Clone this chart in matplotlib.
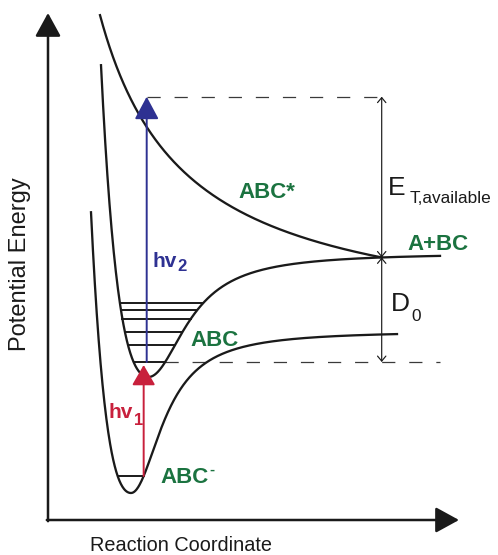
import numpy as np
import matplotlib
matplotlib.use("Agg")
import matplotlib.pyplot as plt
from matplotlib.patches import FancyArrowPatch

# ---------------- data (reaction coordinate r, energy E; arbitrary units) ----------------
states = ["ABC-", "ABC", "ABC*"]
# bound wells: [r_min, E_min, depth, left steepness, right half-width]
anion_params = [0.83, 0.27, 1.62, 2.1, 0.37]
anion_range = [0.43, 3.49]
neutral_params = [1.005, 1.43, 1.24, 2.0, 0.45]
neutral_range = [0.53, 3.92]
# repulsive excited state: [r_start, r_end, strength, softness]
excited_params = [0.52, 3.337, 2.6809, 0.85]
# vibrational levels (energies)
anion_levels = [0.44]
neutral_levels = [1.58, 1.75, 1.88, 2.01, 2.10, 2.17]
# photon energies reached
photon_top = 4.233
hv2_r = 0.987
dashed_right_end = 3.92

plt.rcParams["font.family"] = ["Liberation Sans", "DejaVu Sans"]
plt.rcParams["lines.scale_dashes"] = False

GREEN = "#1b7340"
RED = "#c8203c"
BLUE = "#2e3192"
BLACK = "#1a1a1a"


def bound_curve(r, r0, e_min, depth, a_left, w_right):
    t = (r - r0) / w_right
    left = e_min + depth * (np.exp(a_left * (r0 - r)) - 1.0) ** 2
    right = e_min + depth * t ** 2 / (1.0 + t ** 2)
    return np.where(r < r0, left, right)


def walls(E, r0, e_min, depth, a_left, w_right):
    f = (E - e_min) / depth
    rl = r0 - np.log(1.0 + np.sqrt(f)) / a_left
    rr = r0 + w_right * np.sqrt(f / (1.0 - f))
    return rl, rr


def repulsive_curve(r, r_start, r_end, e_end, c, u0):
    return e_end + c * (1.0 / (r - r_start + u0) - 1.0 / (r_end - r_start + u0))


fig = plt.figure(figsize=(4.98, 5.55), dpi=100)
ax = fig.add_axes([48 / 498, 35 / 555, 450 / 498, 520 / 555])
ax.set_xlim(0, 4.5)
ax.set_ylim(0, 5.2)
ax.axis("off")


def P(x, y):
    """pixel position -> data position (for annotation placement)"""
    return (x - 48) / 100.0, (520 - y) / 100.0


def arrow(p0, p1, color, lw, style, hl, hw, z=3):
    a = FancyArrowPatch(p0, p1, arrowstyle=f"{style},head_length={hl},head_width={hw}",
                        mutation_scale=1, color=color, lw=lw, shrinkA=0, shrinkB=0,
                        zorder=z, clip_on=False)
    ax.add_patch(a)


# axes arrows
arrow((0, -0.012), (0, 5.07), BLACK, 1.8, "-|>", 14.4, 7.9)
arrow((-0.012, 0), (4.11, 0), BLACK, 1.8, "-|>", 14.4, 7.9)

# curves
r = np.linspace(anion_range[0], anion_range[1], 800)
ax.plot(r, bound_curve(r, *anion_params), color=BLACK, lw=1.65, zorder=2)
r = np.linspace(neutral_range[0], neutral_range[1], 800)
ax.plot(r, bound_curve(r, *neutral_params), color=BLACK, lw=1.65, zorder=2)
r_start, r_end, c_rep, u0 = excited_params
e_meet = float(bound_curve(np.array(r_end), *neutral_params))
r = np.linspace(r_start, r_end, 800)
ax.plot(r, repulsive_curve(r, r_start, r_end, e_meet, c_rep, u0), color=BLACK, lw=1.65, zorder=2)

# vibrational levels
for E in anion_levels:
    rl, rr = walls(E, *anion_params)
    ax.plot([rl, rr], [E, E], color=BLACK, lw=1.4, zorder=2)
for E in neutral_levels:
    rl, rr = walls(E, *neutral_params)
    ax.plot([rl, rr], [E, E], color=BLACK, lw=1.4, zorder=2)

# dashed reference lines
dash = (0, (9.5, 10))
rl0, rr0 = walls(neutral_levels[0], *neutral_params)
ax.plot([rr0, dashed_right_end], [neutral_levels[0]] * 2, color="#3a3a3a", lw=0.9, ls=dash, zorder=1)
ax.plot([hv2_r, r_end], [photon_top] * 2, color="#3a3a3a", lw=0.9, ls=dash, zorder=1)

# photon arrows
_, r_hv1 = walls(anion_levels[0], *anion_params)
arrow((r_hv1, anion_levels[0]), (r_hv1, neutral_levels[0] - 0.03), RED, 1.4, "-|>", 12.5, 7.2, z=4)
arrow((hv2_r, neutral_levels[0]), (hv2_r, photon_top), BLUE, 1.4, "-|>", 14.0, 7.5, z=4)

# energy brackets
arrow((r_end, photon_top), (r_end, e_meet), BLACK, 0.85, "<->", 3.6, 3.0)
arrow((r_end, e_meet), (r_end, neutral_levels[0]), BLACK, 0.85, "<->", 3.6, 3.0)

# labels
bold = dict(fontweight="bold", va="baseline", ha="left")
ax.text(*P(238, 198), states[2], color=GREEN, fontsize=16, **bold)
ax.text(*P(190, 345.5), states[1], color=GREEN, fontsize=16, **bold)
ax.text(*P(160, 483), states[0][:3], color=GREEN, fontsize=16, **bold)
ax.text(*P(209, 474), states[0][3], color=GREEN, fontsize=11, **bold)
ax.text(*P(407, 250), "A+BC", color=GREEN, fontsize=16, **bold)

ax.text(*P(153, 267), "hv", color=BLUE, fontsize=15, **bold)
ax.text(*P(177.8, 271), "2", color=BLUE, fontsize=12, **bold)
ax.text(*P(109, 418), "hv", color=RED, fontsize=15, **bold)
ax.text(*P(133.8, 425), "1", color=RED, fontsize=12, **bold)

reg = dict(va="baseline", ha="left", color=BLACK)
ax.text(*P(388, 195), "E", fontsize=19, **reg)
ax.text(*P(410, 203), "T,available", fontsize=12.4, **reg)
ax.text(*P(391, 311), "D", fontsize=19, **reg)
ax.text(*P(411, 321), "0", fontsize=12.4, **reg)

ax.text(*P(20, 264), "Potential Energy", fontsize=17, rotation=90, ha="center", va="center",
        color=BLACK, clip_on=False)
ax.text(*P(181.5, 551), "Reaction Coordinate", fontsize=14.3, ha="center", va="baseline",
        color=BLACK, clip_on=False)

fig.savefig("out.png", dpi=100)
